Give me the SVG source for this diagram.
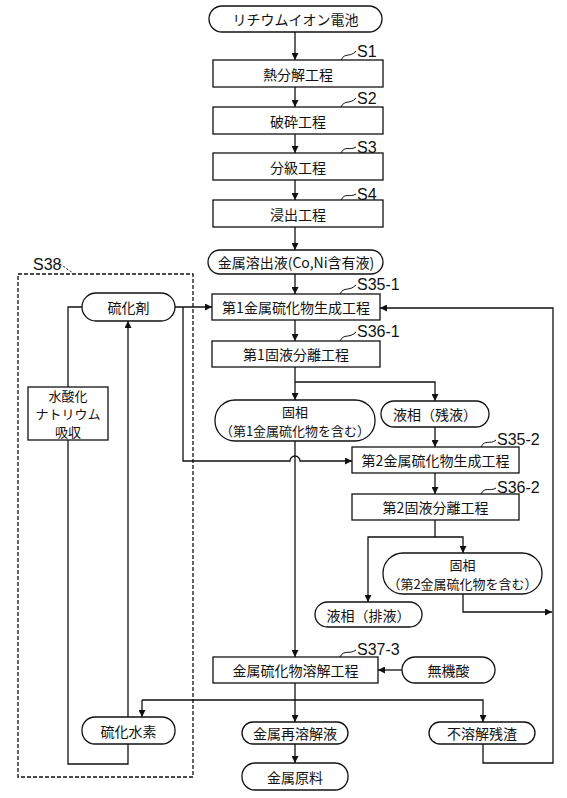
<svg xmlns="http://www.w3.org/2000/svg" width="567" height="798" viewBox="0 0 567 798">
<style>
.n{fill:#fff;stroke:#111;stroke-width:1.3}
.t{font-family:"Noto Sans CJK JP","Noto Sans CJK SC",sans-serif;font-size:14px;fill:#111;text-anchor:middle;dominant-baseline:central}
.m{font-size:13px}
.s{font-family:"Liberation Sans",Arial,sans-serif;font-size:16px;fill:#111;dominant-baseline:central}
.c{fill:none;stroke:#111;stroke-width:1.3}
.l{fill:none;stroke:#111;stroke-width:1}
</style>
<defs>
<marker id="a" viewBox="0 0 10 10" refX="10" refY="5" markerWidth="8" markerHeight="7" markerUnits="userSpaceOnUse" orient="auto">
<path d="M0,0L10,5L0,10z" fill="#111"/>
</marker>
</defs>
<rect x="0" y="0" width="567" height="798" fill="#fff"/>

<g id="S38">
<rect x="18" y="274" width="175" height="503" fill="none" stroke="#111" stroke-width="1.3" stroke-dasharray="4,2"/>
<text class="s" x="33" y="264">S38</text>
<path class="l" d="M60,264 L73,273" stroke-dasharray="2,2"/>
</g>

<g id="connectors">
<path class="c" d="M295,32 V60" marker-end="url(#a)"/>
<path class="c" d="M295,87 V107" marker-end="url(#a)"/>
<path class="c" d="M295,134 V153" marker-end="url(#a)"/>
<path class="c" d="M295,180 V200" marker-end="url(#a)"/>
<path class="c" d="M295,227 V250" marker-end="url(#a)"/>
<path class="c" d="M295,274 V294" marker-end="url(#a)"/>
<path class="c" d="M295,320 V341" marker-end="url(#a)"/>
<path class="c" d="M295,367 V400" marker-end="url(#a)"/>
<path class="c" d="M295,382 H435 V401" marker-end="url(#a)"/>
<path class="c" d="M435,427 V447" marker-end="url(#a)"/>
<path class="c" d="M435,473 V494" marker-end="url(#a)"/>
<path class="c" d="M435,520 V537 H463 V553" marker-end="url(#a)"/>
<path class="c" d="M435,537 H368 V602" marker-end="url(#a)"/>
<path class="c" d="M463,594 V612 H552" marker-end="url(#a)"/>
<path class="c" d="M483,744 V763 H553 V308 H380" marker-end="url(#a)"/>
<path class="c" d="M175,307 H212" marker-end="url(#a)"/>
<path class="c" d="M183,307 V461 H290 A5,5 0 0 1 300,461 H352" marker-end="url(#a)"/>
<path class="c" d="M295,441 V657" marker-end="url(#a)"/>
<path class="c" d="M402,670 H378" marker-end="url(#a)"/>
<path class="c" d="M295,683 V722" marker-end="url(#a)"/>
<path class="c" d="M142,700 H483 V722" marker-end="url(#a)"/>
<path class="c" d="M142,700 V717" marker-end="url(#a)"/>
<path class="c" d="M295,744 V763" marker-end="url(#a)"/>
<path class="c" d="M82,307 H68 V387"/>
<path class="c" d="M68,440 V764 H128 V744"/>
<path class="c" d="M128,717 V321" marker-end="url(#a)"/>
</g>

<g id="start">
<rect class="n" x="209" y="6" width="173" height="26" rx="13"/>
<text class="t" x="295.5" y="19">リチウムイオン電池</text>
</g>
<g id="S1">
<rect class="n" x="213" y="60" width="170" height="27"/>
<text class="t" x="298" y="73.5">熱分解工程</text>
<path class="l" d="M341,60 C345,52 350,58 356,51"/>
<text class="s" x="357" y="51">S1</text>
</g>
<g id="S2">
<rect class="n" x="213" y="107" width="170" height="27"/>
<text class="t" x="298" y="120.5">破砕工程</text>
<path class="l" d="M341,107 C345,99 350,105 356,98"/>
<text class="s" x="357" y="98">S2</text>
</g>
<g id="S3">
<rect class="n" x="213" y="153" width="170" height="27"/>
<text class="t" x="298" y="166.5">分級工程</text>
<path class="l" d="M341,153 C345,145 350,151 356,147"/>
<text class="s" x="357" y="147">S3</text>
</g>
<g id="S4">
<rect class="n" x="213" y="200" width="170" height="27"/>
<text class="t" x="298" y="213.5">浸出工程</text>
<path class="l" d="M341,200 C345,192 350,198 356,194"/>
<text class="s" x="357" y="194">S4</text>
</g>
<g id="leach">
<rect class="n" x="208" y="250" width="175" height="24" rx="12"/>
<text class="t" x="296" y="262">金属溶出液(Co,Ni含有液)</text>
</g>
<g id="S35-1">
<rect class="n" x="212" y="294" width="168" height="26"/>
<text class="t" x="296" y="307">第1金属硫化物生成工程</text>
<path class="l" d="M340,294 C344,286 349,292 356,285"/>
<text class="s" x="357" y="284">S35-1</text>
</g>
<g id="S36-1">
<rect class="n" x="212" y="341" width="168" height="26"/>
<text class="t" x="296" y="354">第1固液分離工程</text>
<path class="l" d="M340,341 C344,333 349,339 356,332"/>
<text class="s" x="357" y="331">S36-1</text>
</g>
<g id="solid1">
<rect class="n" x="215" y="400" width="160" height="41" rx="20"/>
<text class="t m" x="295" y="411.5">固相</text>
<text class="t m" x="295" y="430">（第1金属硫化物を含む）</text>
</g>
<g id="liquid1">
<rect class="n" x="381" y="401" width="108" height="26" rx="13"/>
<text class="t" x="435" y="414">液相（残液）</text>
</g>
<g id="S35-2">
<rect class="n" x="352" y="447" width="167" height="26"/>
<text class="t" x="435.5" y="460">第2金属硫化物生成工程</text>
<path class="l" d="M481,447 C485,439 490,445 496,440"/>
<text class="s" x="497" y="439">S35-2</text>
</g>
<g id="S36-2">
<rect class="n" x="352" y="494" width="167" height="26"/>
<text class="t" x="435.5" y="507">第2固液分離工程</text>
<path class="l" d="M481,494 C485,486 490,492 496,488"/>
<text class="s" x="497" y="487">S36-2</text>
</g>
<g id="solid2">
<rect class="n" x="383" y="553" width="159" height="41" rx="20"/>
<text class="t m" x="462.5" y="564.5">固相</text>
<text class="t m" x="462.5" y="583">（第2金属硫化物を含む）</text>
</g>
<g id="liquid2">
<rect class="n" x="315" y="602" width="107" height="25" rx="12.5"/>
<text class="t" x="368.5" y="614.5">液相（排液）</text>
</g>
<g id="S37-3">
<rect class="n" x="213" y="657" width="165" height="26"/>
<text class="t" x="295.5" y="670">金属硫化物溶解工程</text>
<path class="l" d="M340,657 C344,649 349,655 356,650"/>
<text class="s" x="357" y="649">S37-3</text>
</g>
<g id="acid">
<rect class="n" x="402" y="657" width="93" height="26" rx="13"/>
<text class="t" x="448.5" y="670">無機酸</text>
</g>
<g id="redissolve">
<rect class="n" x="242" y="722" width="106" height="22" rx="11"/>
<text class="t" x="295" y="733">金属再溶解液</text>
</g>
<g id="residue">
<rect class="n" x="429" y="722" width="106" height="22" rx="11"/>
<text class="t" x="482" y="733">不溶解残渣</text>
</g>
<g id="raw">
<rect class="n" x="242" y="763" width="106" height="27" rx="13"/>
<text class="t" x="295" y="776.5">金属原料</text>
</g>
<g id="h2s">
<rect class="n" x="82" y="717" width="93" height="27" rx="13"/>
<text class="t" x="128.5" y="730.5">硫化水素</text>
</g>
<g id="sulfidizer">
<rect class="n" x="82" y="293" width="93" height="28" rx="14"/>
<text class="t" x="128.5" y="307">硫化剤</text>
</g>
<g id="naoh">
<rect class="n" x="28" y="387" width="80" height="53"/>
<text class="t m" x="68" y="395.5">水酸化</text>
<text class="t m" x="68" y="413.5">ナトリウム</text>
<text class="t m" x="68" y="431.5">吸収</text>
</g>
</svg>
